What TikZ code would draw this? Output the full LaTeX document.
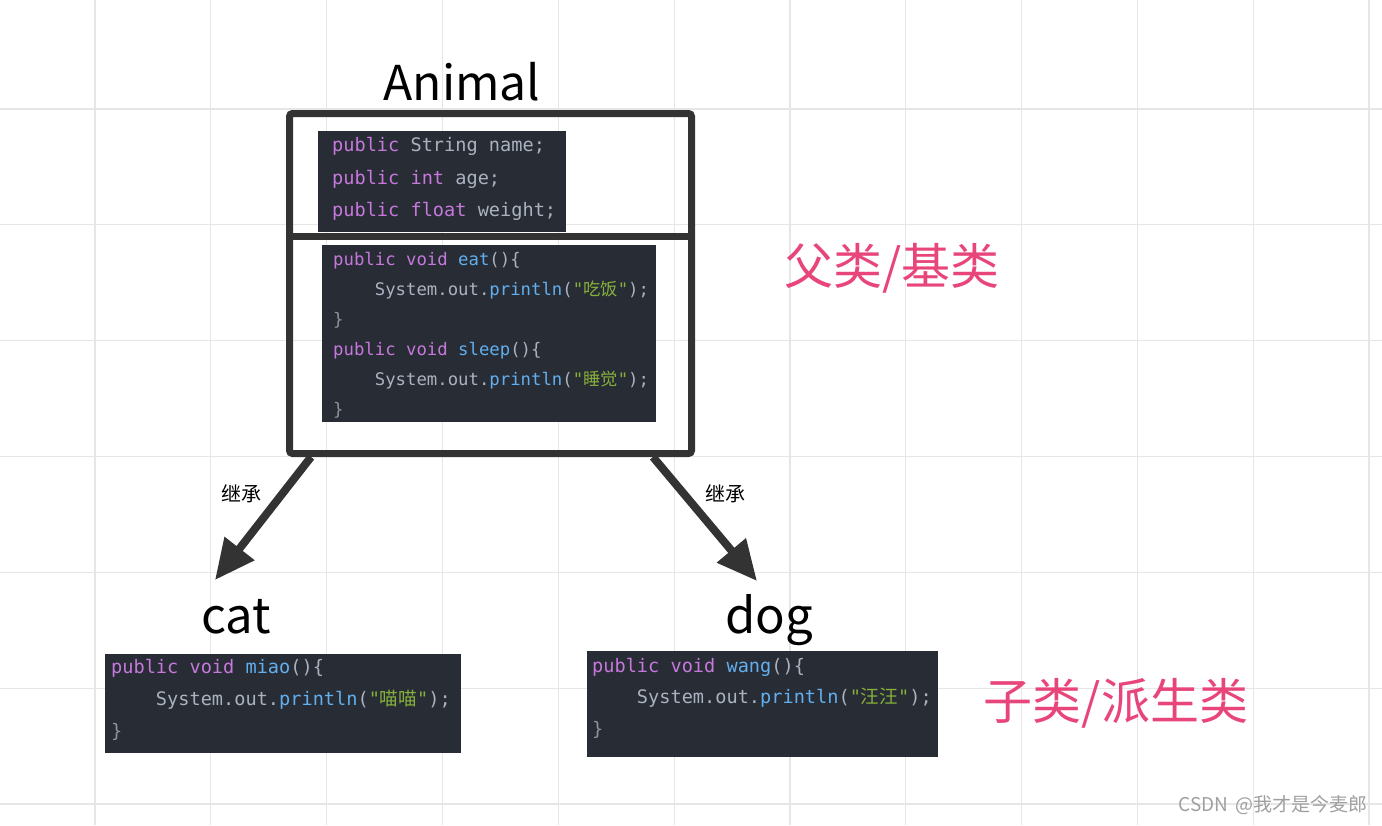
\documentclass[tikz,border=0pt]{standalone}
\usepackage{fontspec}
\setmainfont{Noto Sans CJK SC}
\newfontfamily\cjk{Noto Sans CJK SC}
\newfontfamily\codefont{DejaVu Sans Mono}
\usetikzlibrary{arrows.meta,calc}
\definecolor{gridc}{HTML}{E6E6E6}
\definecolor{boxc}{HTML}{333333}
\definecolor{codebg}{HTML}{282C34}
\definecolor{kwc}{HTML}{C678DD}
\definecolor{plainc}{HTML}{ABB2BF}
\definecolor{fnc}{HTML}{61AFEF}
\definecolor{strc}{HTML}{86B03C}
\definecolor{brc}{HTML}{8C93A0}
\definecolor{pinkc}{HTML}{E8457A}
\definecolor{wmkc}{HTML}{A0A0A0}
\newcommand\kw[1]{\textcolor{kwc}{#1}}
\newcommand\fn[1]{\textcolor{fnc}{#1}}
\newcommand\cstr[1]{\textcolor{strc}{"{\cjk #1}"}}
\newcommand\ind{\phantom{0000}}
\tikzset{
  gridline/.style={draw=gridc, line width=1.3pt},
  boxline/.style={draw=boxc, line width=7pt},
  codebox/.style={fill=codebg, anchor=north west, inner sep=0pt},
  codeA/.style={anchor=base west, inner sep=0pt, text=plainc, font=\codefont\fontsize{18.6}{20}\selectfont},
  codeB/.style={anchor=base west, inner sep=0pt, text=plainc, font=\codefont\fontsize{17.3}{20}\selectfont},
  biglabel/.style={anchor=base, inner sep=0pt, font=\fontsize{49}{56}\selectfont},
  pinklabel/.style={inner sep=0pt, text=pinkc, font=\fontsize{49}{56}\selectfont},
  inhlabel/.style={inner sep=0pt, font=\fontsize{20}{24}\selectfont},
  inherit/.style={draw=boxc, line width=8pt, -{Triangle[length=40pt,width=36pt]}}
}
\begin{document}
\begin{tikzpicture}[x=1pt,y=-1pt]
\useasboundingbox (0,0) rectangle (1382,825);
\fill[white] (0,0) rectangle (1382,825);
% grid
\foreach \i in {0,...,11} \draw[gridline] ({95+115.83*\i},0) -- ({95+115.83*\i},825);
\foreach \j in {0,...,6} \draw[gridline] (0,{109+115.83*\j}) -- (1382,{109+115.83*\j});

% Animal box
\node[boxline, minimum width=402pt, minimum height=340pt, rounded corners=3pt, inner sep=0pt] (animal) at (490.5,283.5) {};
\coordinate (divy) at (0,236);
\draw[boxline] (animal.west |- divy) -- (animal.east |- divy);
\node[biglabel, font=\fontsize{48}{56}\selectfont] (animalT) at (462,100) {Animal};

% fields
\node[codebox, minimum width=248pt, minimum height=101pt] (fields) at (318,131) {};
\node[codeA] (f1) at (332,151) {\kw{public} String name;};
\node[codeA] (f2) at (332,184) {\kw{public} \kw{int} age;};
\node[codeA] (f3) at (332,216) {\kw{public} \kw{float} weight;};

% methods
\node[codebox, minimum width=334pt, minimum height=177pt] (methods) at (322,245) {};
\node[codeB] (m1) at (333,265) {\kw{public} \kw{void} \fn{eat}()\{};
\node[codeB] (m2) at (333,295) {\ind System.out.\fn{println}(\cstr{吃饭});};
\node[codeB] (m3) at (333,325) {\textcolor{brc}{\}}};
\node[codeB] (m4) at (333,355) {\kw{public} \kw{void} \fn{sleep}()\{};
\node[codeB] (m5) at (333,385) {\ind System.out.\fn{println}(\cstr{睡觉});};
\node[codeB] (m6) at (333,415) {\textcolor{brc}{\}}};

\node[pinklabel] (baseT) at (892,268) {父类/基类};

% arrows
\coordinate (catTip) at (215,580);
\coordinate (dogTip) at (757,581);
\draw[inherit] ($(animal.south west)+(25,0)$) -- (catTip);
\draw[inherit] ($(animal.south east)+(-42,0)$) -- (dogTip);
\node[inhlabel] (inhL) at (241,494) {继承};
\node[inhlabel] (inhR) at (725,494) {继承};

% cat
\node[biglabel] (catT) at (236,633) {cat};
\node[codebox, minimum width=356pt, minimum height=99pt] (catcode) at (105,654) {};
\node[codeA] (c1) at (111,673) {\kw{public} \kw{void} \fn{miao}()\{};
\node[codeA] (c2) at (111,705) {\ind System.out.\fn{println}(\cstr{喵喵});};
\node[codeA] (c3) at (111,737) {\textcolor{brc}{\}}};

% dog
\node[biglabel] (dogT) at (769,633) {dog};
\node[codebox, minimum width=351pt, minimum height=106pt] (dogcode) at (587,651) {};
\node[codeA] (d1) at (592,672) {\kw{public} \kw{void} \fn{wang}()\{};
\node[codeA] (d2) at (592,703) {\ind System.out.\fn{println}(\cstr{汪汪});};
\node[codeA] (d3) at (592,735) {\textcolor{brc}{\}}};

\node[pinklabel] (derivedT) at (1116,703) {子类/派生类};

\node[anchor=east, inner sep=0pt, text=wmkc, font=\fontsize{19}{22}\selectfont] (wm) at (1368,805) {CSDN\, @我才是今麦郎};
\end{tikzpicture}
\end{document}
